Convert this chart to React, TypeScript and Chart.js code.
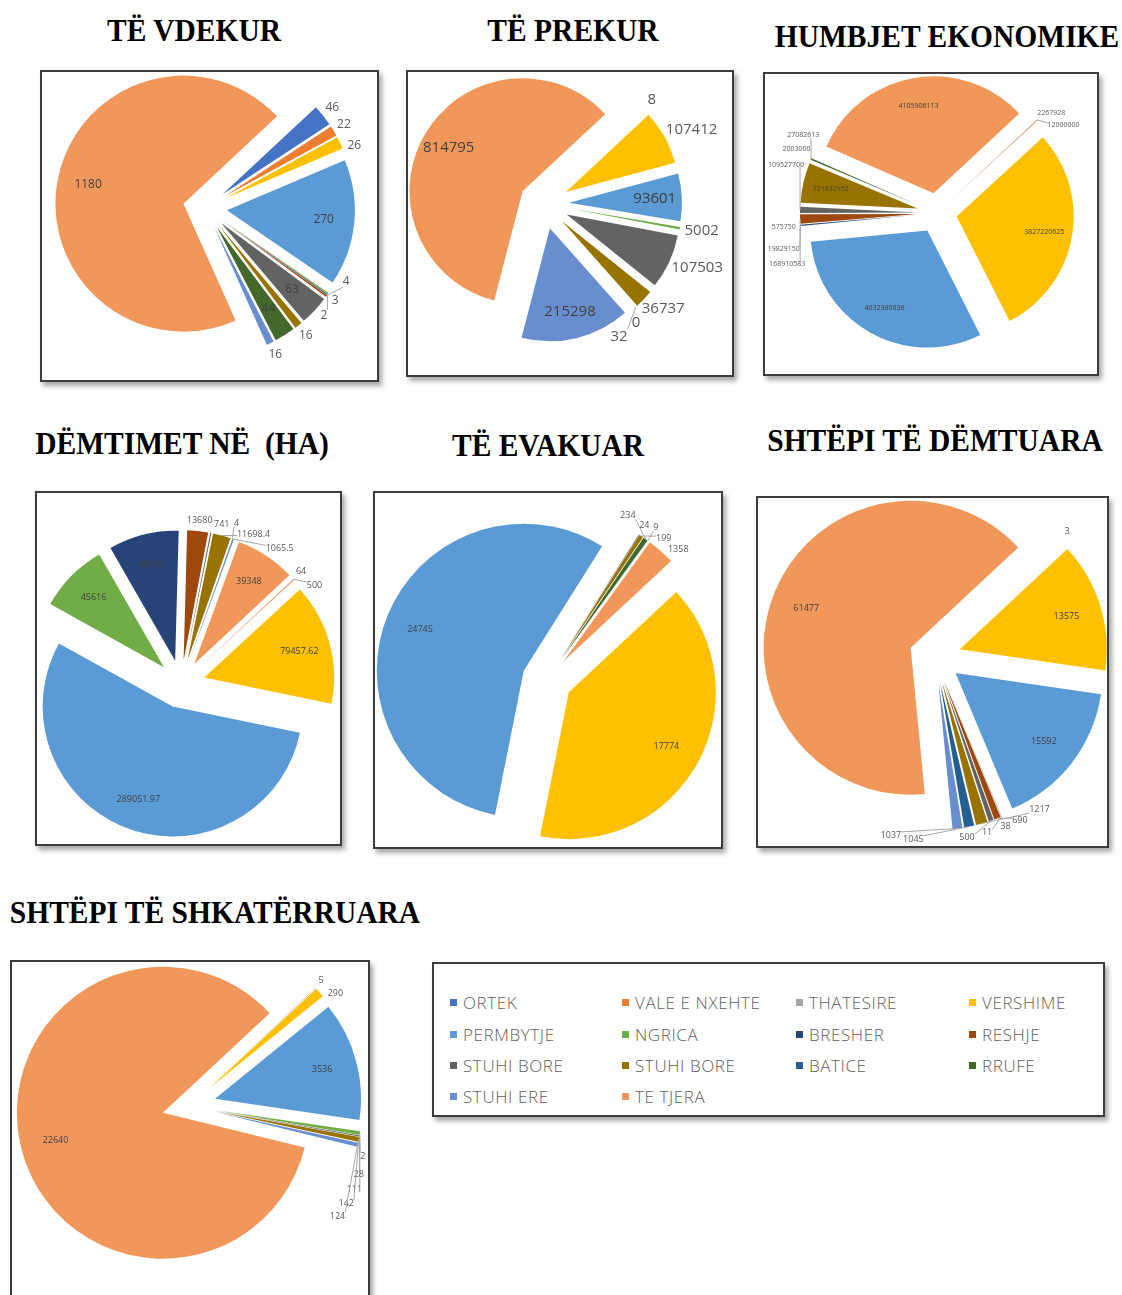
import React, { useEffect, useRef } from 'react';
import { Chart, PieController, ArcElement } from 'chart.js';

// ---------- DATA ----------
const CATEGORIES = [
  'ORTEK', 'VALE E NXEHTE', 'THATESIRE', 'VERSHIME',
  'PERMBYTJE', 'NGRICA', 'BRESHER', 'RESHJE',
  'STUHI BORE', 'STUHI BORE', 'BATICE', 'RRUFE',
  'STUHI ERE', 'TE TJERA',
];
const COLORS = [
  '#4472C4', '#ED7D31', '#A5A5A5', '#FFC000',
  '#5B9BD5', '#70AD47', '#264478', '#9E480E',
  '#636363', '#997300', '#255E91', '#43682B',
  '#698ED0', '#F1975A',
];

// values aligned with CATEGORIES (null = not present in that chart)
const TE_VDEKUR = [46, 22, null, 26, 270, 3, 2, 4, 63, 16, null, 44, 16, 1180];
const TE_PREKUR = [8, null, null, 107412, 93601, 5002, null, null, 107503, 36737, 0, 32, 215298, 814795];
const HUMBJET_EKONOMIKE = [2267928, 12000000, null, 3827220625, 4032380836, 575750, 19829150, 168910583, 109527700, 721832952, 2003000, 27082613, null, 4105906113];
const DEMTIMET_HA = [64, 500, null, 79457.62, 289051.97, 45616, 46000, 13680, 741, 11698.4, 4, null, 1065.5, 39348];
const TE_EVAKUAR = [null, null, null, 17774, 24745, null, 24, null, null, 199, null, 234, 9, 1358];
const SHTEPI_DEMTUARA = [3, null, null, 13575, 15592, 38, 11, 690, 500, 1217, 1045, null, 1037, 61477];
const SHTEPI_SHKATERRUARA = [5, null, null, 290, 3536, 111, 2, null, 28, 142, null, null, 124, 22640];

const ROTATION = 47;
const INSIDE_FRAC = 0.76;
const GAP = 5;

// ---------- layout specs ----------
const PIES: any[] = [
  { title: 'TË VDEKUR', titleX: 194, titleBase: 42, box: [40, 70, 339, 312], values: TE_VDEKUR, center: [205, 208], radius: 128, explode: 22, font: 12, inside: [4, 8, 11, 13] },
  { title: 'TË PREKUR', titleX: 573, titleBase: 42, box: [406, 70, 328, 307], values: TE_PREKUR, center: [544, 204], radius: 113, explode: 25, font: 15, inside: [4, 12, 13] },
  { title: 'HUMBJET EKONOMIKE', titleX: 947, titleBase: 48, box: [763, 72, 336, 304], values: HUMBJET_EKONOMIKE, center: [937, 213], radius: 117, explode: 20, font: 7, inside: [3, 4, 9, 13] },
  { title: 'DËMTIMET NË  (HA)', titleX: 182, titleBase: 455, box: [35, 491, 307, 355], values: DEMTIMET_HA, center: [181, 684], radius: 130, explode: 24, font: 9, inside: [3, 4, 5, 6, 13] },
  { title: 'TË EVAKUAR', titleX: 548, titleBase: 457, box: [373, 491, 350, 358], values: TE_EVAKUAR, center: [547, 680], radius: 147, explode: 25, font: 9, inside: [3, 4] },
  { title: 'SHTËPI TË DËMTUARA', titleX: 935, titleBase: 452, box: [756, 496, 353, 352], values: SHTEPI_DEMTUARA, center: [935, 657], radius: 147, explode: 26, font: 9, inside: [3, 4, 13] },
  { title: 'SHTËPI TË SHKATËRRUARA', titleX: 215, titleBase: 924, box: [10, 960, 360, 345], values: SHTEPI_SHKATERRUARA, center: [189, 1106], radius: 146, explode: 27, font: 9, inside: [4, 13] },
];

// ---------- custom exploded arc (pure translation along mid-angle) ----------
class ExplodedArc extends (ArcElement as any) {
  static id = 'explodedArc';
  draw(ctx: CanvasRenderingContext2D) {
    const self: any = this;
    const opts = self.options;
    const { x, y, startAngle, endAngle, outerRadius } = self;
    if (!(endAngle - startAngle > 0)) return;
    const off = opts.offset || 0;
    const mid = (startAngle + endAngle) / 2;
    ctx.save();
    ctx.translate(Math.cos(mid) * off, Math.sin(mid) * off);
    ctx.beginPath();
    ctx.moveTo(x, y);
    ctx.arc(x, y, outerRadius, startAngle, endAngle);
    ctx.closePath();
    ctx.fillStyle = opts.backgroundColor;
    ctx.fill();
    ctx.restore();
  }
}
class ExplodedPieController extends (PieController as any) {
  static id = 'explodedPie';
  static defaults = { dataElementType: 'explodedArc' };
}
Chart.register(ArcElement, PieController, ExplodedArc as any, ExplodedPieController as any);

const fmt = (v: number) => String(v);
const clamp = (v: number, a: number, b: number) => Math.max(a, Math.min(b, v));

function makeLabelPlugin(spec: any) {
  return {
    id: 'pieValueLabels',
    afterDatasetsDraw(chart: any) {
      const ctx: CanvasRenderingContext2D = chart.ctx;
      const meta = chart.getDatasetMeta(0);
      const W = chart.width, H = chart.height;
      const fs = spec.font;
      const lh = Math.round(fs * 1.25);
      ctx.save();
      ctx.font = `${fs}px "Open Sans", "Liberation Sans", sans-serif`;
      ctx.textBaseline = 'middle';
      ctx.textAlign = 'left';
      const placed: any[] = [];
      const hit = (b: any) => placed.some(p => b.x < p.x + p.w + 1 && b.x + b.w + 1 > p.x && b.y < p.y + p.h && b.y + b.h > p.y);
      const items: any[] = [];
      meta.data.forEach((el: any, i: number) => {
        const raw = spec.values[i];
        if (raw === null || raw === undefined) return;
        const a = (el.startAngle + el.endAngle) / 2;
        const text = fmt(raw);
        items.push({ i, a, ux: Math.cos(a), uy: Math.sin(a), cx: el.x, cy: el.y, r: el.outerRadius, text, w: ctx.measureText(text).width });
      });
      // inside labels
      items.filter(it => spec.inside.includes(it.i)).forEach(it => {
        const d = spec.explode + it.r * INSIDE_FRAC;
        const px = it.cx + it.ux * d, py = it.cy + it.uy * d;
        const b = { x: px - it.w / 2, y: py - lh / 2, w: it.w, h: lh };
        placed.push(b);
        ctx.fillStyle = '#404040';
        ctx.fillText(it.text, b.x, py);
      });
      // outside labels with simple collision avoidance
      const cands: any[] = [];
      for (let dr = 0; dr <= 90; dr += 3) {
        for (let k = 0; k <= 16; k++) {
          const signs = k === 0 ? [0] : [1, -1];
          for (const s of signs) cands.push({ dr, da: (s * k * 3 * Math.PI) / 180, score: dr + k * 3 });
        }
      }
      cands.sort((p, q) => p.score - q.score);
      items.filter(it => !spec.inside.includes(it.i)).forEach(it => {
        let chosen: any = null;
        for (const c of cands) {
          const ang = it.a + c.da;
          const R = spec.explode + it.r + GAP + c.dr;
          const px = it.cx + Math.cos(ang) * R, py = it.cy + Math.sin(ang) * R;
          const b = { x: px - (it.w * (1 - Math.cos(ang))) / 2, y: py - (lh * (1 - Math.sin(ang))) / 2, w: it.w, h: lh };
          if (b.x < 2 || b.y < 1 || b.x + b.w > W - 2 || b.y + b.h > H - 1) continue;
          if (hit(b)) continue;
          chosen = { b, moved: c.dr > 4 || Math.abs(c.da) > 0.06 };
          break;
        }
        if (!chosen) {
          const R = spec.explode + it.r + GAP;
          const px = it.cx + it.ux * R, py = it.cy + it.uy * R;
          chosen = { b: { x: clamp(px - (it.w * (1 - it.ux)) / 2, 2, W - it.w - 2), y: clamp(py - (lh * (1 - it.uy)) / 2, 1, H - lh - 1), w: it.w, h: lh }, moved: true };
        }
        const b = chosen.b;
        placed.push(b);
        if (chosen.moved) {
          const ex = it.cx + it.ux * (spec.explode + it.r), ey = it.cy + it.uy * (spec.explode + it.r);
          const qx = clamp(ex, b.x, b.x + b.w), qy = clamp(ey, b.y + 2, b.y + b.h - 2);
          ctx.strokeStyle = '#A6A6A6';
          ctx.lineWidth = 1;
          ctx.beginPath();
          ctx.moveTo(ex, ey);
          ctx.lineTo(qx, qy);
          ctx.stroke();
        }
        ctx.fillStyle = '#595959';
        ctx.fillText(it.text, b.x, b.y + lh / 2);
      });
      ctx.restore();
    },
  };
}

const BORDER = 2;
const TITLE_SIZE = 29.5;

function PieBox({ spec }: { spec: any }) {
  const ref = useRef<HTMLCanvasElement | null>(null);
  const [left, top, w, h] = spec.box;
  const cw = w - 2 * BORDER, ch = h - 2 * BORDER;
  useEffect(() => {
    if (!ref.current) return;
    const cxr = spec.center[0] - left - BORDER;
    const cyr = spec.center[1] - top - BORDER;
    const chart = new Chart(ref.current, {
      type: 'explodedPie' as any,
      data: {
        labels: CATEGORIES,
        datasets: [{
          data: spec.values.map((v: number | null) => (v === null ? 0 : v)),
          backgroundColor: COLORS,
          borderWidth: 0,
          offset: spec.explode,
          clip: false,
        } as any],
      },
      options: {
        responsive: false,
        animation: false,
        devicePixelRatio: 1,
        events: [],
        rotation: ROTATION,
        radius: spec.radius,
        layout: {
          padding: {
            left: Math.max(0, 2 * cxr - cw),
            right: Math.max(0, cw - 2 * cxr),
            top: Math.max(0, 2 * cyr - ch),
            bottom: Math.max(0, ch - 2 * cyr),
          },
        },
        plugins: { legend: { display: false }, tooltip: { enabled: false } },
      } as any,
      plugins: [makeLabelPlugin(spec)],
    });
    return () => chart.destroy();
  }, [spec]);
  const base = TITLE_SIZE * 0.836;
  return (
    <>
      <div
        style={{
          position: 'absolute', left: spec.titleX, top: spec.titleBase - base,
          transform: 'translateX(-50%) scaleY(1.08)', transformOrigin: `50% ${base}px`, whiteSpace: 'pre',
          fontFamily: '"Liberation Serif", "Times New Roman", serif', fontWeight: 700,
          fontSize: TITLE_SIZE, lineHeight: `${TITLE_SIZE}px`, color: '#000',
        }}
      >{spec.title}</div>
      <div
        style={{
          position: 'absolute', left, top, width: w, height: h, boxSizing: 'border-box',
          border: `${BORDER}px solid #3c3c3c`, background: '#fff',
          boxShadow: '3px 4px 5px rgba(0,0,0,0.35)',
        }}
      >
        <canvas ref={ref} width={cw} height={ch} style={{ display: 'block', width: cw, height: ch }} />
      </div>
    </>
  );
}

function LegendBox() {
  const rowY = [38, 70, 101, 132];
  const colX = [16, 188, 362, 535];
  return (
    <div
      style={{
        position: 'absolute', left: 432, top: 962, width: 673, height: 155, boxSizing: 'border-box',
        border: `${BORDER}px solid #3c3c3c`, background: '#fff', boxShadow: '3px 4px 5px rgba(0,0,0,0.35)',
      }}
    >
      {CATEGORIES.map((c, i) => (
        <div
          key={i}
          style={{
            position: 'absolute', left: colX[i % 4], top: rowY[Math.floor(i / 4)] - 12, height: 24,
            display: 'flex', alignItems: 'center', whiteSpace: 'nowrap',
            fontFamily: '"Open Sans", "Liberation Sans", sans-serif', fontSize: 17, fontWeight: 300,
            letterSpacing: 0.6, color: '#606060',
          }}
        >
          <span style={{ display: 'inline-block', width: 7, height: 7, background: COLORS[i], marginRight: 6 }} />
          <span>{c}</span>
        </div>
      ))}
    </div>
  );
}

export default function App() {
  return (
    <div style={{ position: 'absolute', left: 0, top: 0, width: 1122, height: 1295, overflow: 'hidden', background: '#fff' }}>
      {PIES.map((p, i) => <PieBox key={i} spec={p} />)}
      <LegendBox />
    </div>
  );
}
